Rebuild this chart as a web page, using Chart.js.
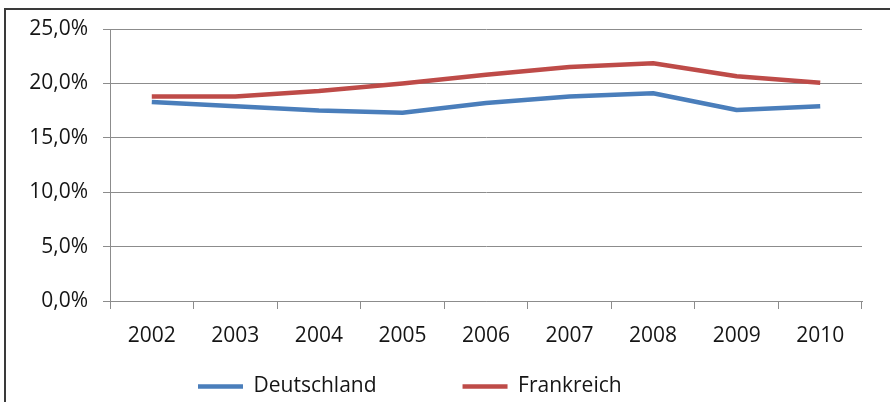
<!DOCTYPE html>
<html>
<head>
<meta charset="utf-8">
<script src="https://cdn.jsdelivr.net/npm/chart.js@4"></script>
<style>
  html, body { margin: 0; padding: 0; background: #fff; }
  #wrap { position: relative; width: 890px; height: 402px; overflow: hidden; }
  #frame { position: absolute; left: 4px; top: 8px; width: 900px; height: 420px;
           border-top: 2px solid #3a3a3a; border-left: 2px solid #3a3a3a; }
  canvas { position: absolute; left: 0; top: 0; }
</style>
</head>
<body>
<div id="wrap">
  <div id="frame"></div>
  <canvas id="c" width="890" height="402"></canvas>
</div>
<script>
// Jahre
const years = ['2002', '2003', '2004', '2005', '2006', '2007', '2008', '2009', '2010'];
// Anteile in Prozent
const deutschland = [18.3, 17.9, 17.5, 17.3, 18.2, 18.8, 19.1, 17.55, 17.9];
const frankreich  = [18.8, 18.8, 19.3, 20.0, 20.8, 21.5, 21.85, 20.65, 20.05];
// Achsenbereich
const yMin = 0, yMax = 25, yStep = 5;

const FONT = { family: '"Open Sans", sans-serif', size: 21 };
const TEXT = '#151515';
const GRID = '#8c8c8c';
const LEGEND_PAD = 86;

// place the bottom legend row freely below the axis
const legendPlacer = {
  id: 'legendPlacer',
  afterLayout(chart) {
    const lg = chart.legend;
    if (!lg) return;
    lg.left = 198 - LEGEND_PAD;
    lg.right = 890;
    lg.top = 376 - LEGEND_PAD;
    lg.bottom = 402;
  }
};

new Chart(document.getElementById('c'), {
  type: 'line',
  data: {
    labels: years,
    datasets: [
      { label: 'Deutschland', data: deutschland, borderColor: '#4a7ebb', backgroundColor: '#4a7ebb',
        borderWidth: 4.5, pointRadius: 0, tension: 0, borderJoinStyle: 'round', borderCapStyle: 'butt' },
      { label: 'Frankreich', data: frankreich, borderColor: '#be4b48', backgroundColor: '#be4b48',
        borderWidth: 4.5, pointRadius: 0, tension: 0, borderJoinStyle: 'round', borderCapStyle: 'butt' }
    ]
  },
  options: {
    responsive: false,
    animation: false,
    layout: { padding: { left: 0, right: 28, top: 29, bottom: 0 } },
    plugins: {
      tooltip: { enabled: false },
      legend: {
        position: 'bottom',
        align: 'start',
        maxHeight: 40,
        labels: {
          usePointStyle: true,
          pointStyle: 'line',
          pointStyleWidth: 45,
          boxHeight: 21,
          padding: LEGEND_PAD,
          color: TEXT,
          font: FONT
        }
      }
    },
    scales: {
      x: {
        offset: true,
        grid: { offset: true, drawOnChartArea: false, drawTicks: true, tickLength: 8, color: GRID, lineWidth: 1 },
        border: { display: true, color: GRID, width: 1 },
        ticks: { color: TEXT, font: FONT, padding: 14, maxRotation: 0, autoSkip: false },
        afterFit(s) { s.height = 61; }
      },
      y: {
        min: yMin, max: yMax,
        grid: { color: GRID, lineWidth: 1, drawTicks: true, tickLength: 7 },
        border: { display: true, color: GRID, width: 1 },
        ticks: {
          stepSize: yStep, color: TEXT, font: FONT, padding: 15,
          callback: v => v.toFixed(1).replace('.', ',') + '%'
        },
        afterFit(s) { s.width = 110; }
      }
    }
  },
  plugins: [legendPlacer]
});
</script>
</body>
</html>
